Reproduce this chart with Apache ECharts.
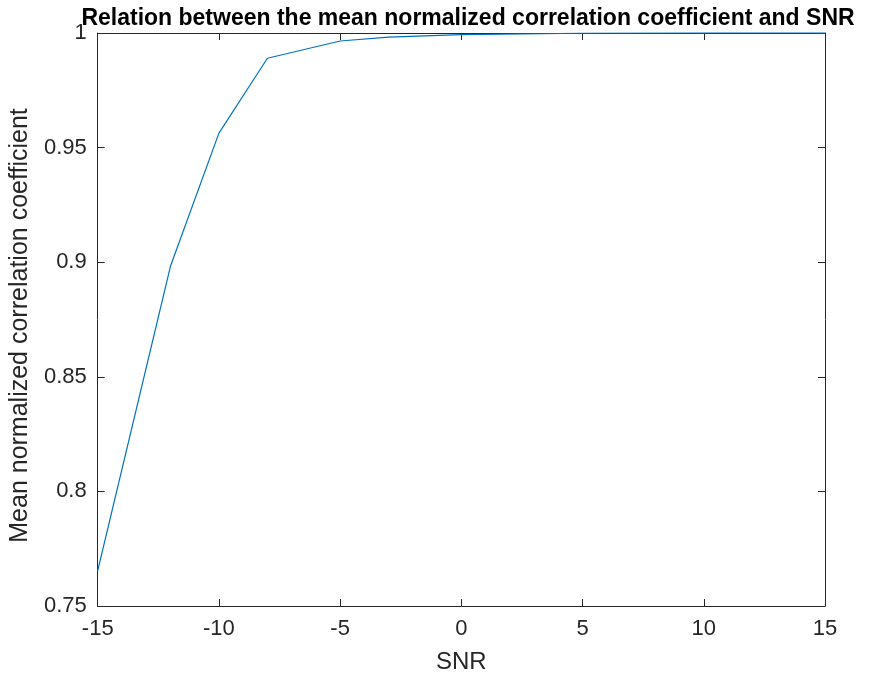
<!DOCTYPE html>
<html>
<head>
<meta charset="utf-8">
<script src="https://cdn.jsdelivr.net/npm/echarts@6/dist/echarts.min.js"></script>
<style>
html,body{margin:0;padding:0;background:#fff;}
#main{width:874px;height:679px;}
</style>
</head>
<body>
<div id="main"></div>
<script>
var snr = [-15, -12, -10, -8, -5, -3, 0, 5, 10, 15];
var meanCorr = [0.7654, 0.8982, 0.9563, 0.9890, 0.9965, 0.9982, 0.9993, 0.9999, 1.0, 1.0];
var titleText = 'Relation between the mean normalized correlation coefficient and SNR';
var xLabel = 'SNR';
var yLabel = 'Mean normalized correlation coefficient';

var font = 'Liberation Sans, Arial, Helvetica, sans-serif';
var axisColor = '#262626';
var chart = echarts.init(document.getElementById('main'));
var data = snr.map(function(x, i){ return [x, meanCorr[i]]; });
chart.setOption({
  animation: false,
  title: {
    text: titleText, left: 463, top: 2, textAlign: 'center',
    textStyle: {fontFamily: font, fontSize: 23, fontWeight: 'bold', color: '#000'}
  },
  grid: {left: 95, right: 49, top: 33, bottom: 72},
  xAxis: [{
    type: 'value', min: -15, max: 15, interval: 5, position: 'bottom',
    name: xLabel, nameLocation: 'middle', nameGap: 44,
    nameTextStyle: {fontFamily: font, fontSize: 24, color: axisColor},
    axisLine: {show: true, onZero: false, lineStyle: {color: axisColor, width: 1}},
    axisTick: {show: true, inside: true, length: 7, lineStyle: {color: axisColor}},
    axisLabel: {fontFamily: font, fontSize: 22, color: axisColor, margin: 12},
    splitLine: {show: false}
  }, {
    type: 'value', min: -15, max: 15, interval: 5, position: 'top',
    axisLine: {show: true, onZero: false, lineStyle: {color: axisColor, width: 1}},
    axisTick: {show: true, inside: true, length: 7, lineStyle: {color: axisColor}},
    axisLabel: {show: false}, splitLine: {show: false}
  }],
  yAxis: [{
    type: 'value', min: 0.75, max: 1, interval: 0.05, position: 'left',
    name: yLabel, nameLocation: 'middle', nameGap: 61,
    nameTextStyle: {fontFamily: font, fontSize: 25, color: axisColor, padding: [0, 12, 0, 0]},
    axisLine: {show: true, onZero: false, lineStyle: {color: axisColor, width: 1}},
    axisTick: {show: true, inside: true, length: 7, lineStyle: {color: axisColor}},
    axisLabel: {fontFamily: font, fontSize: 22, color: axisColor, margin: 11,
      formatter: function(v){ return String(parseFloat(v.toFixed(2))); }},
    splitLine: {show: false}
  }, {
    type: 'value', min: 0.75, max: 1, interval: 0.05, position: 'right',
    axisLine: {show: true, onZero: false, lineStyle: {color: axisColor, width: 1}},
    axisTick: {show: true, inside: true, length: 7, lineStyle: {color: axisColor}},
    axisLabel: {show: false}, splitLine: {show: false}
  }],
  series: [{
    type: 'line', data: data, xAxisIndex: 0, yAxisIndex: 0,
    showSymbol: false, symbol: 'none',
    lineStyle: {color: '#0072BD', width: 1.2},
    clip: false
  }]
});
</script>
</body>
</html>
